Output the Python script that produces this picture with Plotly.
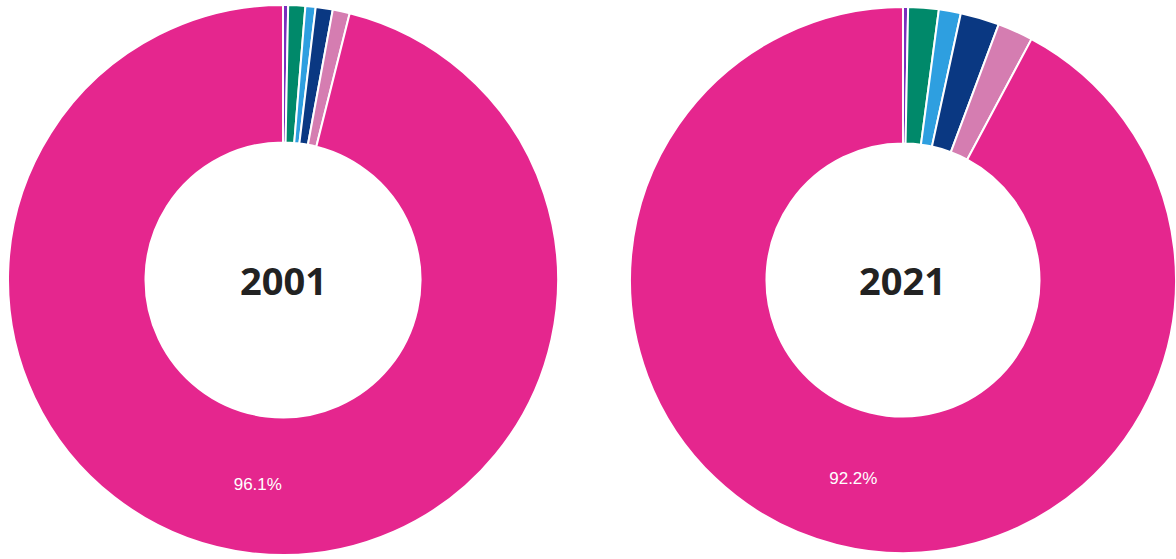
import plotly.graph_objects as go

# Share of each group (percent), clockwise from 12 o'clock
groups = ["Group E", "Group D", "Group C", "Group B", "Group A", "Majority"]
share_2001 = [0.3, 1.0, 0.6, 1.0, 1.0, 96.1]
share_2021 = [0.3, 1.8, 1.3, 2.3, 2.1, 92.2]
years = ["2001", "2021"]

colors = ["#7B2FBE", "#00896A", "#2E9FE0", "#0A3882", "#D57DB1", "#E5268E"]

def labels_for(values):
    # only the dominant slice carries a percentage label
    return ["" if v < 50 else f"{v:.1f}%" for v in values]

fig = go.Figure()
domains = [[0.0, 0.4813], [0.5357, 1.0]]
for vals, dom in zip([share_2001, share_2021], domains):
    fig.add_trace(go.Pie(
        labels=groups,
        values=vals,
        hole=0.5,
        sort=False,
        direction="clockwise",
        rotation=0,
        marker=dict(colors=colors, line=dict(color="white", width=2)),
        texttemplate=labels_for(vals),
        textposition="inside",
        insidetextorientation="horizontal",
        textfont=dict(color="white", size=17, family="Liberation Sans, Arial"),
        domain=dict(x=dom, y=[0, 1]),
        showlegend=False,
    ))

for yr, dom in zip(years, domains):
    fig.add_annotation(
        text=f"<b>{yr}</b>", x=(dom[0] + dom[1]) / 2, y=0.5,
        xref="paper", yref="paper", showarrow=False,
        xanchor="center", yanchor="middle",
        font=dict(size=38, color="#222222", family="Open Sans, Arial"),
    )

fig.update_layout(
    width=1176, height=559,
    margin=dict(l=0, r=0, t=5, b=4),
    paper_bgcolor="white", plot_bgcolor="white",
)

fig.write_html("out.html")
